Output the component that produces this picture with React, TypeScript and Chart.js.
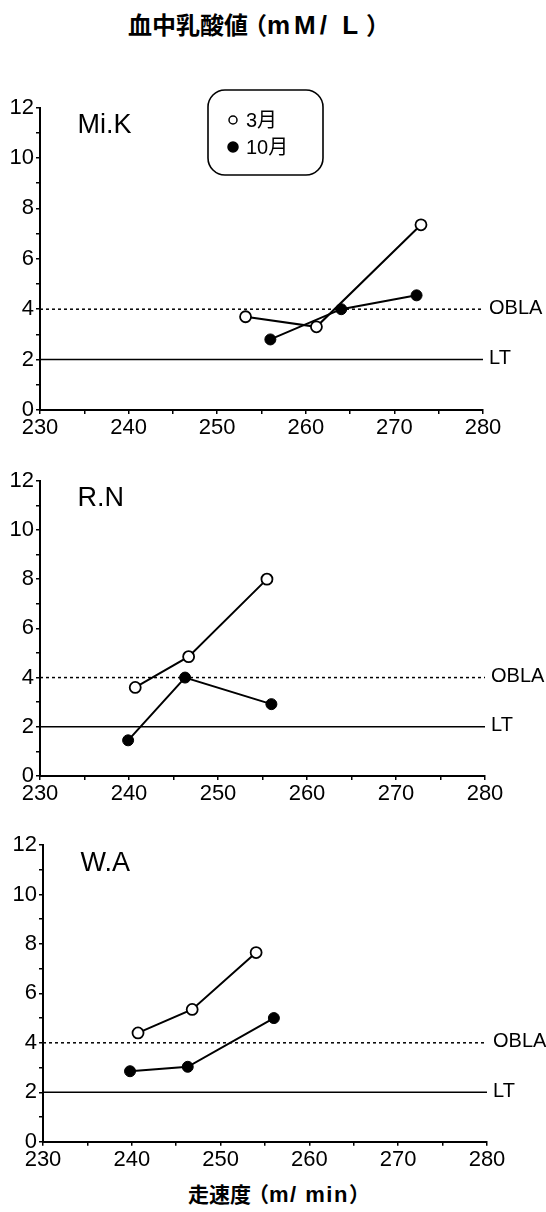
import React, { useEffect, useRef } from 'react';
import { Chart, registerables } from 'chart.js';

Chart.register(...registerables);

// ---------- data ----------
const titleCjk = '血中乳酸値';
const titleUnit = 'mM/ L';
const xAxisCjk = '走速度';
const xAxisUnit = 'm/ min';
const subjects = ['Mi.K', 'R.N', 'W.A'];
const seriesLabels = ['3月', '10月'];

const miKMarchSpeed = [253.2, 261.2, 273.0];
const miKMarchLactate = [3.7, 3.3, 7.35];
const miKOctSpeed = [256.0, 264.0, 272.5];
const miKOctLactate = [2.8, 4.0, 4.55];

const rnMarchSpeed = [240.7, 246.7, 255.5];
const rnMarchLactate = [3.6, 4.85, 8.0];
const rnOctSpeed = [239.9, 246.3, 256.0];
const rnOctLactate = [1.45, 4.0, 2.92];

const waMarchSpeed = [240.7, 246.8, 254.0];
const waMarchLactate = [4.4, 5.35, 7.65];
const waOctSpeed = [239.8, 246.3, 256.0];
const waOctLactate = [2.85, 3.03, 5.0];

const xMin = 230;
const xMax = 280;
const xTickStep = 5;
const xLabelStep = 10;
const yMin = 0;
const yMax = 12;
const yTickStep = 1;
const yLabelStep = 2;

const refValues = [4, 2];
const refLabels = ['OBLA', 'LT'];

// ---------- layout ----------
const FONT = '"Liberation Sans", Arial, "Noto Sans CJK JP", sans-serif';
const CJK = '"Noto Sans CJK JP", "Liberation Sans", sans-serif';
const LATIN = '"Liberation Sans", Arial, sans-serif';

const panels = [
  { canvasTop: 60, canvasH: 390, left: 40, right: 483, top: 107.6, bottom: 410, legend: true,
    march: [miKMarchSpeed, miKMarchLactate], oct: [miKOctSpeed, miKOctLactate] },
  { canvasTop: 455, canvasH: 370, left: 40, right: 485, top: 480.7, bottom: 776, legend: false,
    march: [rnMarchSpeed, rnMarchLactate], oct: [rnOctSpeed, rnOctLactate] },
  { canvasTop: 825, canvasH: 350, left: 43, right: 487, top: 845, bottom: 1141.7, legend: false,
    march: [waMarchSpeed, waMarchLactate], oct: [waOctSpeed, waOctLactate] },
];

const zip = (xs: number[], ys: number[]) => xs.map((x, i) => ({ x, y: ys[i] }));

const decorPlugin = {
  id: 'decor',
  afterDatasetsDraw(chart: any, _args: any, opts: any) {
    const { ctx, chartArea } = chart;
    const yScale = chart.scales.y;
    ctx.save();
    ctx.fillStyle = '#000';
    // subject label
    ctx.font = `27px ${FONT}`;
    ctx.textAlign = 'left';
    ctx.textBaseline = 'alphabetic';
    ctx.fillText(opts.subject, chartArea.left + 37.5, chartArea.top + 25.5);
    // reference line labels
    ctx.font = `20px ${FONT}`;
    refValues.forEach((v, i) => {
      const y = yScale.getPixelForValue(v);
      ctx.fillText(refLabels[i], chartArea.right + 6, y + 4.5);
    });
    // legend
    if (opts.legend) {
      const bx = chartArea.left + 168;
      const by = chartArea.top - 17.6;
      const bw = 115;
      const bh = 85;
      ctx.beginPath();
      ctx.lineWidth = 1.6;
      ctx.strokeStyle = '#000';
      (ctx as any).roundRect(bx, by, bw, bh, 17);
      ctx.stroke();
      const ds = chart.data.datasets;
      const rows = [by + 30, by + 57];
      [0, 1].forEach((i) => {
        const d = ds[i];
        ctx.beginPath();
        ctx.arc(bx + 25, rows[i], i === 0 ? 4 : 5, 0, Math.PI * 2);
        ctx.fillStyle = d.pointBackgroundColor;
        ctx.fill();
        ctx.lineWidth = 1.5;
        ctx.strokeStyle = '#000';
        ctx.stroke();
        ctx.fillStyle = '#000';
        ctx.font = `20px ${FONT}`;
        ctx.textBaseline = 'middle';
        ctx.fillText(d.label, bx + 38, rows[i] + 1);
      });
    }
    ctx.restore();
  },
};

function Panel({ idx }: { idx: number }) {
  const ref = useRef<HTMLCanvasElement | null>(null);
  const p = panels[idx];
  useEffect(() => {
    if (!ref.current) return;
    const axisCommon = {
      grid: { display: true, drawOnChartArea: false, drawTicks: true, tickLength: 4, color: '#000', lineWidth: 1.5 },
      border: { display: true, color: '#000', width: 2 },
    };
    const chart = new Chart(ref.current, {
      type: 'line',
      data: {
        datasets: [
          {
            label: seriesLabels[0],
            data: zip(p.march[0], p.march[1]),
            borderColor: '#000',
            borderWidth: 2,
            pointRadius: 5.5,
            pointBackgroundColor: '#fff',
            pointBorderColor: '#000',
            pointBorderWidth: 1.8,
            pointStyle: 'circle',
          },
          {
            label: seriesLabels[1],
            data: zip(p.oct[0], p.oct[1]),
            borderColor: '#000',
            borderWidth: 2,
            pointRadius: 5.5,
            pointBackgroundColor: '#000',
            pointBorderColor: '#000',
            pointBorderWidth: 1,
            pointStyle: 'circle',
          },
          ...refValues.map((v, i) => ({
            label: refLabels[i],
            data: [{ x: xMin, y: v }, { x: xMax, y: v }],
            borderColor: '#000',
            borderWidth: 1.5,
            borderDash: i === 0 ? [3, 3] : [],
            pointRadius: 0,
          })),
        ],
      } as any,
      options: {
        animation: false,
        responsive: false,
        maintainAspectRatio: false,
        layout: {
          padding: {
            left: 0,
            right: 546 - p.right,
            top: p.top - p.canvasTop,
            bottom: p.canvasH - (p.bottom - p.canvasTop) - 30,
          },
        },
        plugins: {
          legend: { display: false },
          tooltip: { enabled: false },
          decor: { subject: subjects[idx], legend: p.legend },
        } as any,
        scales: {
          x: {
            type: 'linear',
            min: xMin,
            max: xMax,
            ticks: {
              stepSize: xTickStep,
              autoSkip: false,
              maxRotation: 0,
              color: '#000',
              font: { size: 22, family: FONT },
              padding: 1,
              callback: (v: any) => (Number(v) % xLabelStep === 0 ? String(v) : ''),
            },
            ...axisCommon,
            afterFit: (s: any) => { s.height = 30; },
          },
          y: {
            type: 'linear',
            min: yMin,
            max: yMax,
            ticks: {
              stepSize: yTickStep,
              autoSkip: false,
              color: '#000',
              font: { size: 22, family: FONT },
              padding: 2,
              callback: (v: any) => (Number(v) % yLabelStep === 0 ? String(v) : ''),
            },
            ...axisCommon,
            afterFit: (s: any) => { s.width = p.left; },
          },
        } as any,
      },
      plugins: [decorPlugin],
    });
    return () => chart.destroy();
  }, [idx]);
  return (
    <canvas
      ref={ref}
      width={546}
      height={p.canvasH}
      style={{ position: 'absolute', left: 0, top: p.canvasTop, width: 546, height: p.canvasH }}
    />
  );
}

export default function App() {
  return (
    <div style={{ position: 'absolute', left: 0, top: 0, width: 546, height: 1212, background: '#fff', overflow: 'hidden' }}>
      <div
        style={{
          position: 'absolute', left: 128, top: 12, fontFamily: CJK, fontSize: 24, lineHeight: '24px',
          fontWeight: 700, whiteSpace: 'nowrap', color: '#000',
        }}
      >
        <span>{titleCjk}</span>
        <span style={{ marginLeft: -5 }}>（</span>
        <span style={{ fontFamily: LATIN, fontSize: 26, letterSpacing: 4 }}>{titleUnit}</span>
        <span style={{ marginLeft: 4 }}>）</span>
      </div>
      {panels.map((_, i) => (
        <Panel key={i} idx={i} />
      ))}
      <div
        style={{
          position: 'absolute', left: 188, top: 1182, fontFamily: CJK, fontSize: 21, lineHeight: '22px',
          fontWeight: 700, whiteSpace: 'nowrap', color: '#000',
        }}
      >
        <span>{xAxisCjk}</span>
        <span style={{ marginLeft: -3 }}>（</span>
        <span style={{ fontFamily: LATIN, fontSize: 22, letterSpacing: 1.5 }}>{xAxisUnit}</span>
        <span>）</span>
      </div>
    </div>
  );
}
